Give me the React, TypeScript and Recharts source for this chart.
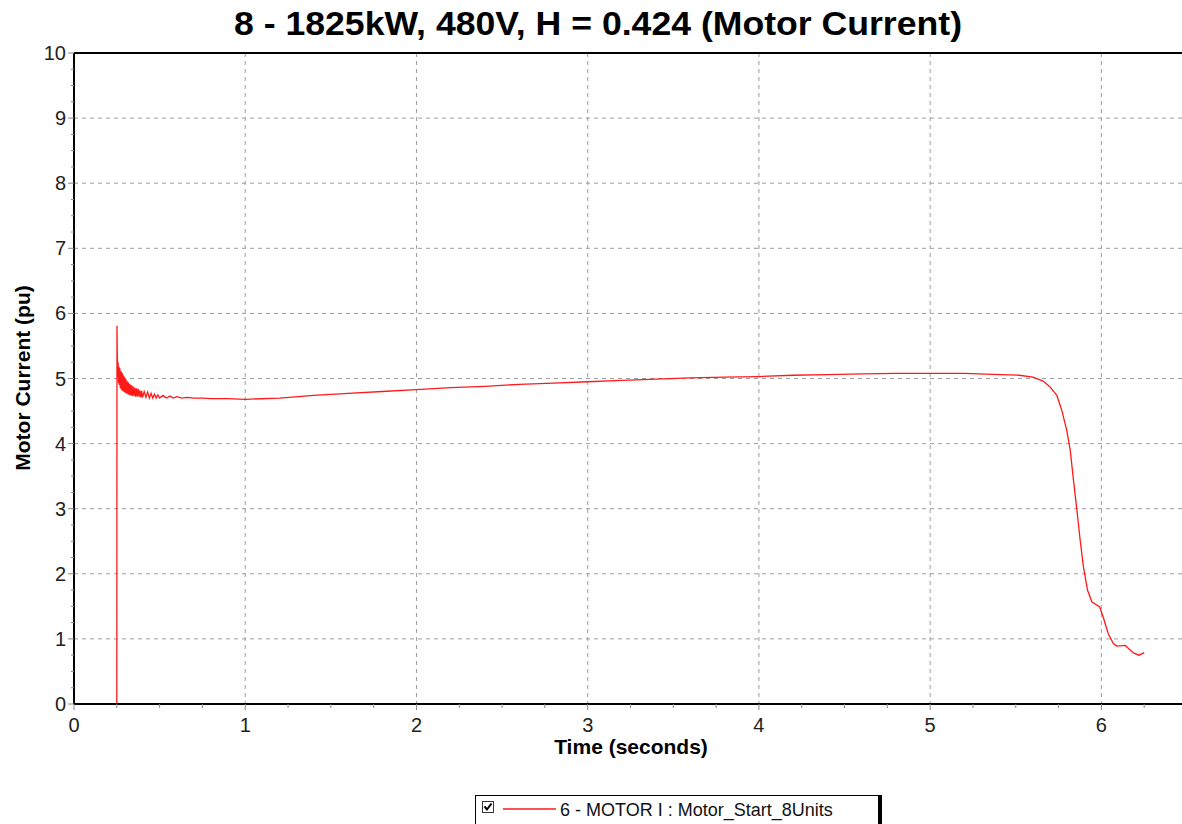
import { CartesianGrid, Line, LineChart, ReferenceLine, XAxis, YAxis } from "recharts";

// Motor current trace (time in s, current in pu)
const TIME_S = [
  0.25, 0.251, 0.2525, 0.255, 0.2575, 0.26, 0.2625, 0.265, 0.2675, 0.27, 0.2725,
  0.275, 0.2775, 0.28, 0.2825, 0.285, 0.2875, 0.29, 0.2925, 0.295, 0.2975, 0.3,
  0.3025, 0.305, 0.3075, 0.31, 0.3125, 0.315, 0.3175, 0.32, 0.3225, 0.325, 0.3275,
  0.33, 0.3325, 0.335, 0.3375, 0.34, 0.345, 0.35, 0.355, 0.36, 0.365, 0.37, 0.375,
  0.38, 0.385, 0.39, 0.395, 0.4, 0.41, 0.42, 0.43, 0.44, 0.45, 0.46, 0.47, 0.48,
  0.49, 0.5, 0.52, 0.54, 0.56, 0.58, 0.6, 0.63, 0.66, 0.7, 0.75, 0.8, 0.9, 1.0,
  1.2, 1.4, 1.6, 1.8, 2.0, 2.2, 2.4, 2.6, 2.8, 3.0, 3.2, 3.4, 3.6, 3.8, 4.0,
  4.2, 4.4, 4.6, 4.8, 5.0, 5.2, 5.41, 5.52, 5.6, 5.66, 5.7, 5.74, 5.769, 5.798,
  5.818, 5.837, 5.857, 5.876, 5.895, 5.919, 5.944, 5.99, 6.01, 6.04, 6.07, 6.09,
  6.14, 6.16, 6.19, 6.22, 6.25,
];
const MOTOR_I_PU = [
  0, 5.81, 5.4, 5.02, 5.25, 4.93, 5.18, 4.9, 5.16, 4.86, 5.12,
  4.84, 5.1, 4.82, 5.08, 4.81, 5.05, 4.8, 5.03, 4.79, 5.01, 4.78,
  4.99, 4.77, 4.97, 4.77, 4.95, 4.76, 4.94, 4.75, 4.92, 4.75, 4.91,
  4.74, 4.9, 4.74, 4.89, 4.73, 4.88, 4.73, 4.86, 4.72, 4.85, 4.72, 4.84,
  4.72, 4.82, 4.71, 4.81, 4.71, 4.8, 4.71, 4.79, 4.7, 4.77, 4.7, 4.76, 4.7,
  4.75, 4.7, 4.74, 4.7, 4.73, 4.7, 4.72, 4.7, 4.71, 4.7, 4.7, 4.69, 4.69, 4.68,
  4.7, 4.74, 4.77, 4.8, 4.83, 4.86, 4.88, 4.91, 4.93, 4.95, 4.97, 4.99, 5.01, 5.02, 5.03,
  5.05, 5.06, 5.07, 5.08, 5.08, 5.08, 5.06, 5.05, 5.02, 4.96, 4.87, 4.74, 4.51, 4.2,
  3.9, 3.44, 2.98, 2.52, 2.11, 1.75, 1.57, 1.49, 1.34, 1.08, 0.93, 0.89,
  0.9, 0.85, 0.78, 0.75, 0.79,
];

const X_TICKS = [
  0, 0.25, 0.5, 0.75, 1, 1.25, 1.5, 1.75, 2, 2.25, 2.5, 2.75, 3, 3.25, 3.5, 3.75,
  4, 4.25, 4.5, 4.75, 5, 5.25, 5.5, 5.75, 6, 6.25,
];
const Y_TICKS = [
  0, 0.25, 0.5, 0.75, 1, 1.25, 1.5, 1.75, 2, 2.25, 2.5, 2.75, 3, 3.25, 3.5, 3.75,
  4, 4.25, 4.5, 4.75, 5, 5.25, 5.5, 5.75, 6, 6.25, 6.5, 6.75, 7, 7.25, 7.5, 7.75,
  8, 8.25, 8.5, 8.75, 9, 9.25, 9.5, 9.75, 10,
];
const X_GRID = [1, 2, 3, 4, 5, 6];
const Y_GRID = [1, 2, 3, 4, 5, 6, 7, 8, 9];

const TITLE = "8 - 1825kW, 480V, H = 0.424 (Motor Current)";
const SERIES_NAME = "6 - MOTOR I : Motor_Start_8Units";

const FONT = '"Liberation Sans", Arial, sans-serif';
const RED = "#ff1a1a";
const GRID = "#9c9c9c";

const data = TIME_S.map((t, i) => ({ t, i: MOTOR_I_PU[i] }));

function YTick({ x, y, payload }: any) {
  const major = Number.isInteger(payload.value);
  return (
    <g>
      <line x1={x - (major ? 6 : 3)} x2={x} y1={y} y2={y} stroke="#888" strokeWidth={1} />
      {major && (
        <text x={x - 8} y={y + 7} textAnchor="end" fontSize={20} fill="#222" fontFamily={FONT}>
          {payload.value}
        </text>
      )}
    </g>
  );
}

function XTick({ x, y, payload }: any) {
  const major = Number.isInteger(payload.value);
  return (
    <g>
      <line x1={x} x2={x} y1={y} y2={y + (major ? 6 : 4)} stroke="#888" strokeWidth={1} />
      {major && (
        <text x={x} y={y + 28} textAnchor="middle" fontSize={20} fill="#222" fontFamily={FONT}>
          {payload.value}
        </text>
      )}
    </g>
  );
}

export default function App() {
  return (
    <div
      style={{
        position: "absolute",
        left: 0,
        top: 0,
        width: 1182,
        height: 824,
        overflow: "hidden",
        background: "#fff",
        fontFamily: FONT,
      }}
    >
      <svg width={1182} height={50} style={{ position: "absolute", left: 0, top: 0 }}>
        <text
          x={234}
          y={35}
          fontSize={34}
          fontWeight="bold"
          fill="#000"
          fontFamily={FONT}
          textLength={728}
          lengthAdjust="spacingAndGlyphs"
        >
          {TITLE}
        </text>
      </svg>

      <div style={{ position: "absolute", left: 0, top: 0 }}>
        <LineChart
          width={1200}
          height={824}
          data={data}
          margin={{ top: 53, right: 13, left: 0, bottom: 90 }}
        >
          <CartesianGrid
            horizontalValues={Y_GRID}
            verticalValues={X_GRID}
            stroke={GRID}
            strokeDasharray="4 4"
          />
          <XAxis
            dataKey="t"
            type="number"
            domain={[0, 6.5]}
            ticks={X_TICKS}
            interval={0}
            tickSize={0}
            tickMargin={0}
            tickLine={false}
            axisLine={{ stroke: "#000", strokeWidth: 2 }}
            tick={<XTick />}
            height={30}
            allowDataOverflow
            label={{
              content: () => (
                <text
                  x={631}
                  y={754}
                  textAnchor="middle"
                  fontSize={21}
                  fontWeight="bold"
                  fill="#000"
                  fontFamily={FONT}
                >
                  Time (seconds)
                </text>
              ),
            }}
          />
          <YAxis
            type="number"
            domain={[0, 10]}
            ticks={Y_TICKS}
            interval={0}
            width={74}
            tickSize={0}
            tickMargin={0}
            tickLine={false}
            axisLine={{ stroke: "#000", strokeWidth: 2 }}
            tick={<YTick />}
            allowDataOverflow
            label={{
              content: () => (
                <text
                  x={30}
                  y={378}
                  transform="rotate(-90 30 378)"
                  textAnchor="middle"
                  fontSize={21}
                  fontWeight="bold"
                  fill="#000"
                  fontFamily={FONT}
                >
                  Motor Current (pu)
                </text>
              ),
            }}
          />
          <ReferenceLine y={10} stroke="#000" strokeWidth={2} />
          <Line
            type="linear"
            dataKey="i"
            stroke={RED}
            strokeWidth={1.3}
            dot={false}
            isAnimationActive={false}
          />
        </LineChart>
      </div>

      {/* legend box, cut off by the bottom edge like the reference */}
      <div
        style={{
          position: "absolute",
          left: 475,
          top: 795,
          width: 402,
          height: 40,
          border: "1px solid #000",
          boxShadow: "3px 0 0 #000",
          background: "#fff",
        }}
      >
        <svg width={400} height={30} style={{ position: "absolute", left: 0, top: 0 }}>
          <rect x={6.5} y={5.5} width={11} height={11} fill="#fff" stroke="#333" />
          <path d="M8.5 10.5 L11 13.5 L15.5 7.5" stroke="#000" strokeWidth={2} fill="none" />
          <line x1={27} x2={80} y1={13} y2={13} stroke={RED} strokeWidth={1.5} />
          <text x={84} y={20} fontSize={18} fill="#111" fontFamily={FONT}>
            {SERIES_NAME}
          </text>
        </svg>
      </div>
    </div>
  );
}
